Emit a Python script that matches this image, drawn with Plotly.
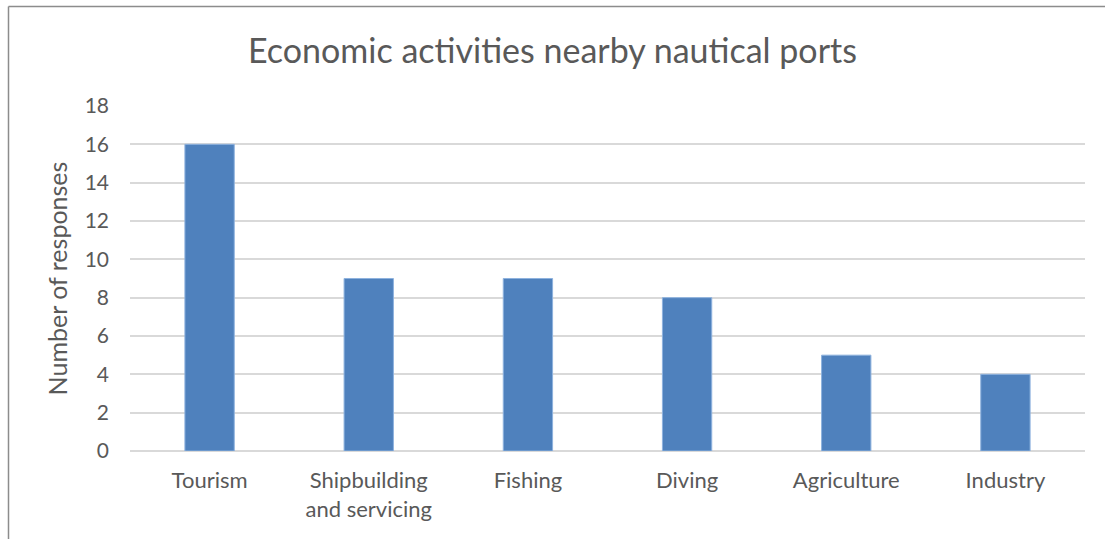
import plotly.graph_objects as go

# Survey results: economic activities near nautical ports
categories = ["Tourism", "Shipbuilding<br>and servicing", "Fishing", "Diving", "Agriculture", "Industry"]
responses = [16, 9, 9, 8, 5, 4]
y_ticks = [0, 2, 4, 6, 8, 10, 12, 14, 16, 18]

TEXT = "#595959"
FONT = "Lato"

fig = go.Figure(
    go.Bar(
        x=categories,
        y=responses,
        marker=dict(color="#4F81BD", line=dict(color="#8EB2DE", width=1)),
        width=0.31,
    )
)

# plot area spans x 130..1085 px and y 106..451 px
PW, PH = 955.0, 345.0
fx = lambda px: (px - 130) / PW
fy = lambda py: (451 - py) / PH

fig.update_layout(
    width=1105,
    height=539,
    margin=dict(l=130, r=20, t=106, b=88),
    paper_bgcolor="white",
    plot_bgcolor="white",
    showlegend=False,
    font=dict(family=FONT, color=TEXT, size=20),
    title=dict(
        text="Economic activities nearby nautical ports",
        x=0.5,
        xanchor="center",
        y=0.905,
        yanchor="middle",
        font=dict(family=FONT, size=34, color=TEXT),
    ),
    xaxis=dict(
        showgrid=False,
        showline=False,
        ticks="",
        ticklabelstandoff=14,
        tickfont=dict(family=FONT, size=22, color=TEXT),
    ),
    yaxis=dict(
        range=[0, 18],
        tickvals=y_ticks,
        showgrid=True,
        gridcolor="#D9D9D9",
        gridwidth=1.5,
        zeroline=True,
        zerolinecolor="#D9D9D9",
        zerolinewidth=1.5,
        showline=False,
        ticks="",
        ticklabelstandoff=20,
        tickfont=dict(family=FONT, size=21, color=TEXT),
        title=dict(text="Number of responses", font=dict(family=FONT, size=25, color=TEXT), standoff=9),
    ),
    shapes=[
        # chart frame: top and left edges
        dict(type="line", xref="paper", yref="paper", x0=fx(8.5), x1=fx(1110), y0=fy(6.5), y1=fy(6.5),
             line=dict(color="#8C8C8C", width=1.5)),
        dict(type="line", xref="paper", yref="paper", x0=fx(8.5), x1=fx(8.5), y0=fy(545), y1=fy(6.5),
             line=dict(color="#8C8C8C", width=1.5)),
    ],
)

fig.write_html("out.html")
